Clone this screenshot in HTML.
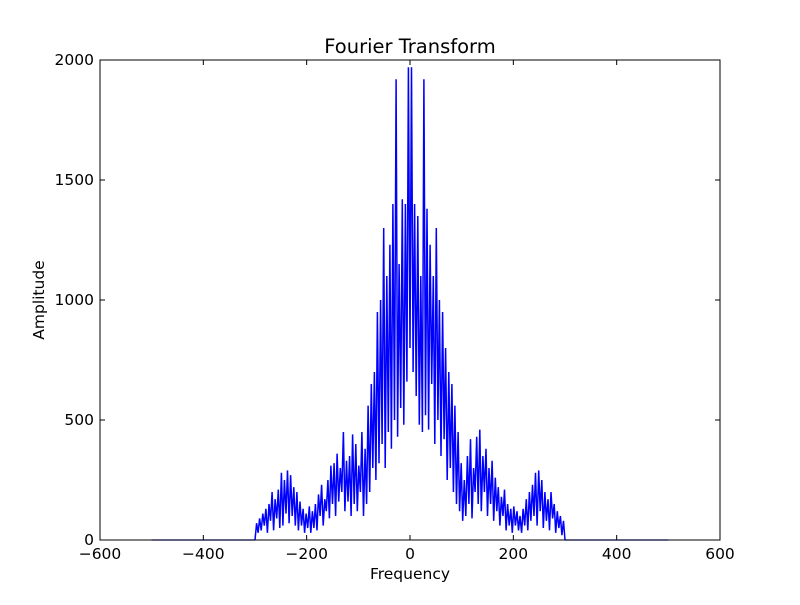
<!DOCTYPE html>
<html><head><meta charset="utf-8"><style>
body{margin:0;background:#fff;}
svg text{font-family:"DejaVu Sans","Liberation Sans",sans-serif;fill:#000;}
</style></head><body>
<svg id="chart" width="800" height="600" xmlns="http://www.w3.org/2000/svg">
<rect width="800" height="600" fill="#fff"/>
<g id="plot"></g>
</svg>
<script>
const xTicks=[-600,-400,-200,0,200,400,600];
const yTicks=[0,500,1000,1500,2000];
const freqStart=-300, freqStep=3;
const negValues=[0,70,30,90,40,110,60,130,30,150,
80,200,40,170,90,210,50,280,60,250,
110,290,70,270,100,220,60,200,40,160,
60,130,30,110,50,140,30,120,50,150,
40,190,100,230,60,170,120,250,90,310,
150,320,100,360,160,300,200,450,120,330,
160,350,100,440,150,400,120,310,200,450,
100,380,150,560,200,650,300,700,250,950,
320,1000,400,1300,300,1100,450,1230,380,1400,
500,1920,430,1150,550,1420,480,1400,660,1970];
const posValues=[800,1970,700,1400,600,1350,480,1100,450,1920,
520,1380,460,1230,650,1100,400,1300,500,1000,
350,950,420,800,250,700,300,650,200,560,
150,450,120,320,80,250,100,350,150,420,
90,300,200,430,150,460,120,350,200,380,
100,300,150,330,80,260,120,220,60,180,
100,210,40,150,60,130,30,140,60,120,
40,100,30,130,60,170,40,200,80,230,
100,280,60,290,120,250,50,200,80,170,
40,200,90,150,30,120,50,100,20,80,0];
const zeroSegments=[[-500,-300],[300,500]];
const L=100,R=720,T=60,B=540;
const sx=v=>L+(v+600)/1200*(R-L);
const sy=v=>B-v/2000*(B-T);
const g=document.getElementById('plot');
const NS='http://www.w3.org/2000/svg';
function mk(t,a){const e=document.createElementNS(NS,t);for(const k in a)e.setAttribute(k,a[k]);g.appendChild(e);return e;}
const values=negValues.concat(posValues);
let d='';
values.forEach((v,i)=>{const f=freqStart+i*freqStep;d+=(i?'L':'M')+sx(f).toFixed(1)+','+sy(v).toFixed(1);});
const line=mk('path',{d:d,fill:'none',stroke:'#0000ff','stroke-width':1.5});


zeroSegments.forEach(s=>{const z=mk('line',{x1:sx(s[0]),x2:sx(s[1]),y1:sy(0),y2:sy(0),stroke:'#0000ff','stroke-width':1.3});

});
const frame=mk('rect',{x:L,y:T,width:R-L,height:B-T,fill:'none',stroke:'#000','stroke-width':1});


xTicks.forEach(t=>{const x=sx(t);
mk('line',{x1:x,x2:x,y1:B,y2:B-5,stroke:'#000'});mk('line',{x1:x,x2:x,y1:T,y2:T+5,stroke:'#000'});
const tx=mk('text',{x:x,y:B+19,'text-anchor':'middle','font-size':15.5});tx.textContent=t<0?'\u2212'+(-t):t;

});
yTicks.forEach(t=>{const y=sy(t);
mk('line',{x1:L,x2:L+5,y1:y,y2:y,stroke:'#000'});mk('line',{x1:R,x2:R-5,y1:y,y2:y,stroke:'#000'});
const tx=mk('text',{x:L-6,y:y+5,'text-anchor':'end','font-size':15.5});tx.textContent=t;

});
const title=mk('text',{x:410,y:53,'text-anchor':'middle','font-size':19.5});title.textContent='Fourier Transform';


const xl=mk('text',{x:410,y:579,'text-anchor':'middle','font-size':15.5});xl.textContent='Frequency';


const yl=mk('text',{x:44,y:300,'text-anchor':'middle','font-size':15.5,transform:'rotate(-90 44 300)'});yl.textContent='Amplitude';


</script>
</body></html>
